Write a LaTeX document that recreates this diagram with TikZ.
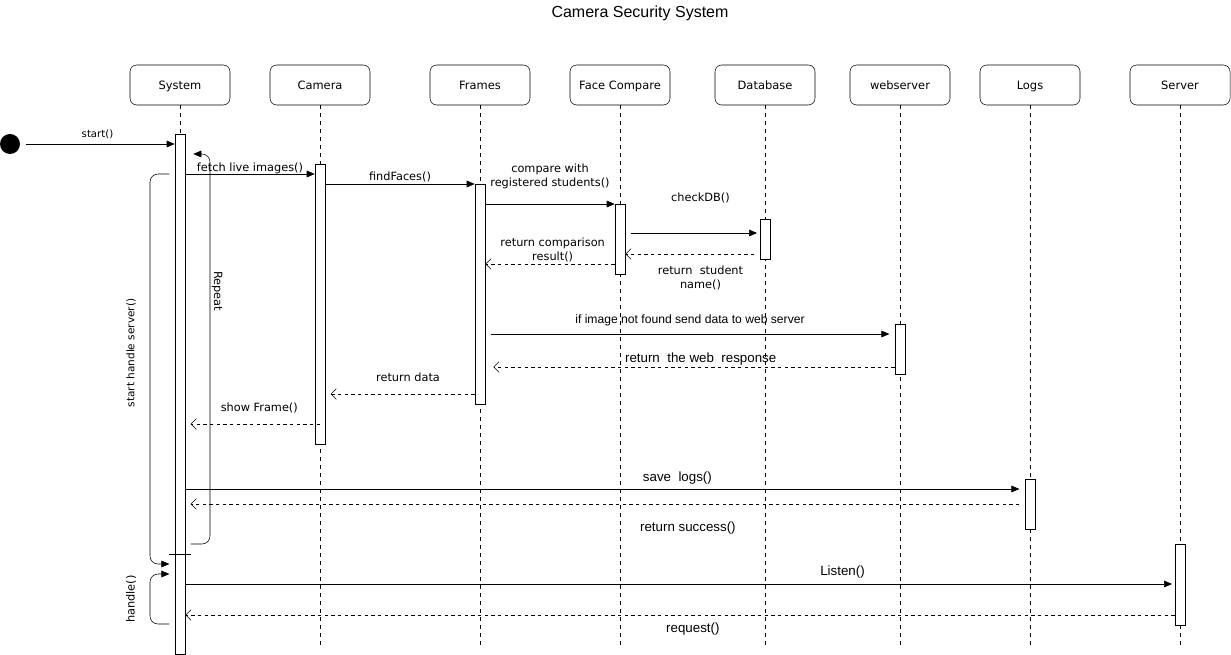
\documentclass[tikz,border=0pt]{standalone}
\usepackage{fontspec}
\setmainfont{Liberation Sans}
\newfontfamily\dejavu{DejaVu Sans}
\usetikzlibrary{arrows.meta, fit}

\begin{document}
\begin{tikzpicture}[x=0.75pt, y=-0.75pt,
  head/.style={rectangle, draw, rounded corners=5pt, minimum width=75pt,
               minimum height=30pt, text height=7pt, text depth=0.6pt,
               font=\dejavu\fontsize{8.6}{10}\selectfont},
  act/.style={rectangle, draw, fill=white, inner sep=0pt},
  life/.style={dash pattern=on 3pt off 3pt},
  msg/.style={-{Triangle[length=6pt,width=5pt]}},
  ret/.style={dash pattern=on 2.5pt off 2.5pt, -{Straight Barb[length=4pt,width=8pt]}},
  lbl/.style={font=\dejavu\fontsize{8.5}{10.5}\selectfont, align=center, inner sep=1pt},
  lbla/.style={font=\fontsize{10}{12}\selectfont, align=center, inner sep=1pt},
  loopln/.style={rounded corners=6pt}
]
\useasboundingbox (0,0) rectangle (1231,655);

%% Title
\node[font=\fontsize{12}{14}\selectfont] (title) at (640,13) {Camera Security System};

%% Lifeline heads
\node[head] at (180,85)  (sys)  {System};
\node[head] at (320,85)  (cam)  {Camera};
\node[head] at (480,85)  (frm)  {Frames};
\node[head] at (620,85)  (fc)   {Face Compare};
\node[head] at (765,85)  (db)   {Database};
\node[head] at (900,85)  (web)  {webserver};
\node[head] at (1030,85) (logs) {Logs};
\node[head] at (1180,85) (srv)  {Server};

%% Lifelines
\foreach \h in {sys,cam,frm,fc,db,web,logs,srv}
  \draw[life] (\h.south) -- ++(0,540);

%% Activation bars
\node[act, fit={(175,134) (185,654)}]   (sysact)  {};
\node[act, fit={(315,164) (325,444)}]   (camact)  {};
\node[act, fit={(475,184) (485,404)}]   (frmact)  {};
\node[act, fit={(615,204) (625,274)}]   (fcact)   {};
\node[act, fit={(760,219) (770,259)}]   (dbact)   {};
\node[act, fit={(895,324) (905,374)}]   (webact)  {};
\node[act, fit={(1025,479) (1035,529)}] (logsact) {};
\node[act, fit={(1175,544) (1185,625)}] (srvact)  {};

%% Start
\node[circle, fill=black, minimum size=15pt, inner sep=0pt] at (10,144) (init) {};
\draw[msg, shorten <=4pt] (init) -- node[lbl, above=3pt, font=\dejavu\fontsize{7.6}{9}\selectfont]{start()} (sysact.west |- init);

%% Loops on System
\draw[loopln, msg] ([xshift=4pt]sysact.east |- 0,544) -- (210,544) -- (210,154)
  -- ([xshift=6pt]sysact.east |- 0,154);
\node[lbl, rotate=-90] at (217,291) (rep) {Repeat};
\draw[loopln, msg] ([xshift=-4pt]sysact.west |- 0,174) -- (150,174) -- (150,564)
  -- ([xshift=-4pt]sysact.west |- 0,564);
\node[lbl, rotate=90, font=\dejavu\fontsize{7.9}{9}\selectfont] at (131,353) (shs) {start handle server()};
\draw ([xshift=-4pt]sysact.west |- 0,554) -- ([xshift=4pt]sysact.east |- 0,554);
\draw[loopln, msg] ([xshift=-4pt]sysact.west |- 0,624) -- (150,624) -- (150,574)
  -- ([xshift=-4pt]sysact.west |- 0,574);
\node[lbl, rotate=90] at (131,599) (hdl) {handle()};

%% Messages
\draw[msg] (sysact.east |- 0,174) -- node[lbl, above=-1pt]{fetch live images()} (camact.west |- 0,174);
\draw[msg] (camact.east |- 0,184) -- node[lbl, above=0pt]{findFaces()} (frmact.west |- 0,184);
\draw[msg] (frmact.east |- 0,204) -- node[lbl, above=10pt]{compare with\\registered students()} (fcact.west |- 0,204);
\draw[msg] ([xshift=4pt]fcact.east |- 0,233) -- node[lbl, above=21pt, xshift=5pt]{checkDB()} ([xshift=-2pt]dbact.west |- 0,233);
\draw[ret] ([xshift=-4pt]dbact.west |- 0,254) -- node[lbl, below=8pt, xshift=8pt]{return~ student\\name()} (fcact.east |- 0,254);
\draw[ret] (fcact.west |- 0,264) -- node[lbl, above=0pt, xshift=2pt]{return comparison\\result()} (frmact.east |- 0,264);
\draw[msg] ([xshift=4pt]frmact.east |- 0,334) -- node[lbl, above=5pt, font=\fontsize{9.1}{11}\selectfont]{if image not found send data to web server} ([xshift=-4pt]webact.west |- 0,334);
\draw[ret] (webact.west |- 0,367) -- node[lbla, above=0pt, xshift=5pt]{return~ the web~ response} ([xshift=6pt]frmact.east |- 0,367);
\draw[ret] (frmact.west |- 0,394) -- node[lbl, above=8pt, xshift=4pt]{return data} ([xshift=4pt]camact.east |- 0,394);
\draw[ret] (camact.center |- 0,424) -- node[lbl, above=7pt, xshift=3pt]{show Frame()} ([xshift=4pt]sysact.east |- 0,424);
\draw[msg] (sysact.east |- 0,489) -- node[lbla, above=2pt, pos=0.59]{save~ logs()} ([xshift=-4pt]logsact.west |- 0,489);
\draw[ret] ([xshift=-4pt]logsact.west |- 0,504) -- node[lbla, below=12pt, pos=0.4]{return success()} ([xshift=4pt]sysact.east |- 0,504);
\draw[msg] (sysact.east |- 0,584) -- node[lbla, above=3pt, pos=0.666]{Listen()} ([xshift=-2pt]srvact.west |- 0,584);
\draw[ret] (srvact.west |- 0,615) -- node[lbla, below=5pt, pos=0.487]{request()} (sysact.east |- 0,615);
\end{tikzpicture}
\end{document}
